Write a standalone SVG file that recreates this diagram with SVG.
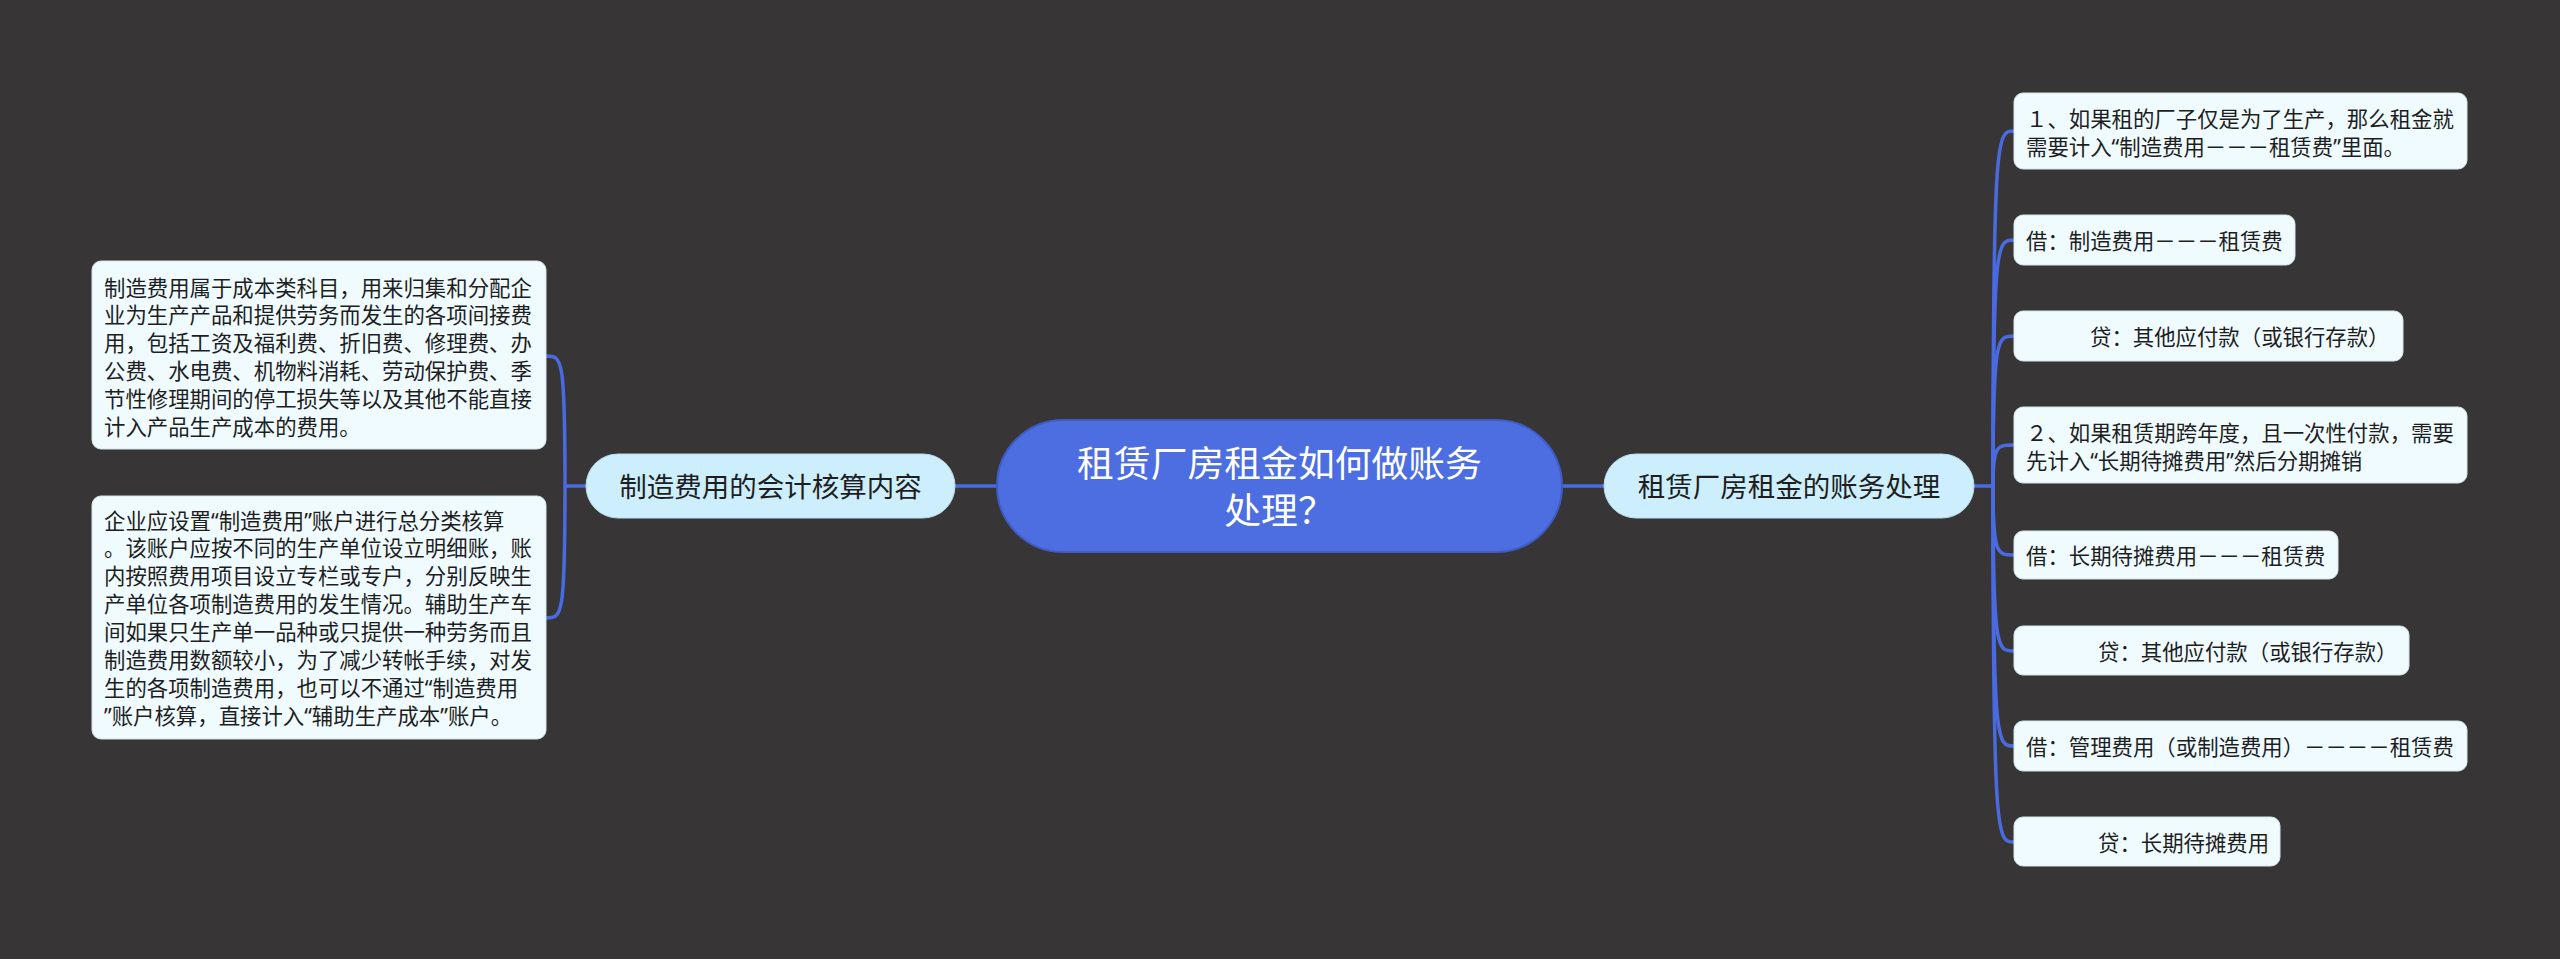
<svg xmlns="http://www.w3.org/2000/svg" width="2560" height="959" viewBox="0 0 2560 959">
<style>
.t{font-family:"Noto Sans","Noto Sans CJK SC",sans-serif;fill:#1e1e1e;dominant-baseline:central}
.leaf{fill:#effbfe;stroke:#d6e6ea;stroke-width:1}
.branch{fill:#cdeefc;stroke:#b9dcec;stroke-width:1}
.lt{font-size:21.4px}
.bt{font-size:27.5px;text-anchor:middle}
.ct{font-size:36.8px;text-anchor:middle;fill:#ffffff}
.conn path{fill:none;stroke:#4a6be0;stroke-width:3.5}
</style>
<rect width="2560" height="959" fill="#373536"/>
<g id="connectors" class="conn">
<path d="M955,486 H997"/>
<path d="M1562,486 H1604"/>
<path d="M586,486 H565"/>
<path d="M565,486 C565,356 562,356 546,356"/>
<path d="M565,486 C565,618 562,618 546,618"/>
<path d="M1974,486 H1993"/>
<path d="M1993,486 C1993,131 1997,131 2014,131"/>
<path d="M1993,486 C1993,240 1997,240 2014,240"/>
<path d="M1993,486 C1993,336 1997,336 2014,336"/>
<path d="M1993,486 C1993,445 1997,445 2014,445"/>
<path d="M1993,486 C1993,555 1997,555 2014,555"/>
<path d="M1993,486 C1993,651 1997,651 2014,651"/>
<path d="M1993,486 C1993,746 1997,746 2014,746"/>
<path d="M1993,486 C1993,842 1997,842 2014,842"/>
</g>
<g id="center">
<rect x="997" y="420" width="565" height="132" rx="66" fill="#4c6ee0" stroke="#3f5cc4" stroke-width="2"/>
<text class="t ct" x="1279.5" y="463">租赁厂房租金如何做账务</text>
<text class="t ct" x="1279.5" y="510">处理？</text>
</g>
<g id="branch-left">
<rect class="branch" x="586" y="454" width="369" height="64" rx="32"/>
<text class="t bt" x="770.5" y="486">制造费用的会计核算内容</text>
</g>
<g id="branch-right">
<rect class="branch" x="1604" y="454" width="370" height="64" rx="32"/>
<text class="t bt" x="1789" y="486">租赁厂房租金的账务处理</text>
</g>
<g id="left-1">
<rect class="leaf" x="92" y="261" width="454" height="188" rx="9"/>
<text class="t lt" x="104" y="287">制造费用属于成本类科目，用来归集和分配企</text>
<text class="t lt" x="104" y="314.8">业为生产产品和提供劳务而发生的各项间接费</text>
<text class="t lt" x="104" y="342.6">用，包括工资及福利费、折旧费、修理费、办</text>
<text class="t lt" x="104" y="370.4">公费、水电费、机物料消耗、劳动保护费、季</text>
<text class="t lt" x="104" y="398.2">节性修理期间的停工损失等以及其他不能直接</text>
<text class="t lt" x="104" y="426">计入产品生产成本的费用。</text>
</g>
<g id="left-2">
<rect class="leaf" x="92" y="496" width="454" height="243" rx="9"/>
<text class="t lt" x="104" y="520">企业应设置“制造费用”账户进行总分类核算</text>
<text class="t lt" x="104" y="547.9">。该账户应按不同的生产单位设立明细账，账</text>
<text class="t lt" x="104" y="575.8">内按照费用项目设立专栏或专户，分别反映生</text>
<text class="t lt" x="104" y="603.7">产单位各项制造费用的发生情况。辅助生产车</text>
<text class="t lt" x="104" y="631.6">间如果只生产单一品种或只提供一种劳务而且</text>
<text class="t lt" x="104" y="659.5">制造费用数额较小，为了减少转帐手续，对发</text>
<text class="t lt" x="104" y="687.4">生的各项制造费用，也可以不通过“制造费用</text>
<text class="t lt" x="104" y="715.3">”账户核算，直接计入“辅助生产成本”账户。</text>
</g>
<g id="right-1">
<rect class="leaf" x="2014" y="93" width="453" height="76" rx="9"/>
<text class="t lt" x="2026" y="118">１、如果租的厂子仅是为了生产，那么租金就</text>
<text class="t lt" x="2026" y="146">需要计入“制造费用－－－租赁费”里面。</text>
</g>
<g id="right-2">
<rect class="leaf" x="2014" y="215" width="281" height="50" rx="9"/>
<text class="t lt" x="2026" y="240">借：制造费用－－－租赁费</text>
</g>
<g id="right-3">
<rect class="leaf" x="2014" y="311" width="389" height="50" rx="9"/>
<text class="t lt" x="2090" y="336">贷：其他应付款（或银行存款）</text>
</g>
<g id="right-4">
<rect class="leaf" x="2014" y="407" width="453" height="76" rx="9"/>
<text class="t lt" x="2026" y="432">２、如果租赁期跨年度，且一次性付款，需要</text>
<text class="t lt" x="2026" y="460">先计入“长期待摊费用”然后分期摊销</text>
</g>
<g id="right-5">
<rect class="leaf" x="2014" y="531" width="324" height="48" rx="9"/>
<text class="t lt" x="2026" y="555">借：长期待摊费用－－－租赁费</text>
</g>
<g id="right-6">
<rect class="leaf" x="2014" y="626" width="395" height="49" rx="9"/>
<text class="t lt" x="2098" y="651">贷：其他应付款（或银行存款）</text>
</g>
<g id="right-7">
<rect class="leaf" x="2014" y="721" width="453" height="50" rx="9"/>
<text class="t lt" x="2026" y="746">借：管理费用（或制造费用）－－－－租赁费</text>
</g>
<g id="right-8">
<rect class="leaf" x="2014" y="817" width="266" height="49" rx="9"/>
<text class="t lt" x="2098" y="842">贷：长期待摊费用</text>
</g>
</svg>
